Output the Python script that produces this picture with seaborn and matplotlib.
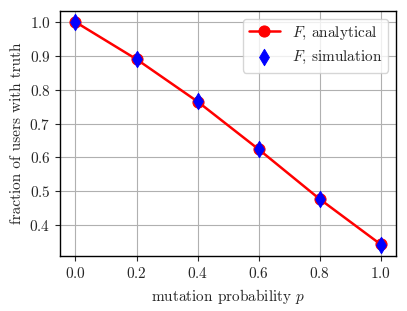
import pandas as pd
import matplotlib.pyplot as plt
import seaborn as sns

p_values = [0.0, 0.2, 0.4, 0.6, 0.8, 1.0]
analytical = [1.0, 0.89, 0.765, 0.624, 0.477, 0.343]
simulation = [1.0, 0.891, 0.768, 0.626, 0.476, 0.341]

df = pd.DataFrame({'p': p_values, 'analytical': analytical, 'simulation': simulation})

sns.set_style('ticks')
plt.rcParams['font.family'] = 'serif'
plt.rcParams['font.serif'] = ['cmr10', 'DejaVu Serif']
plt.rcParams['mathtext.fontset'] = 'cm'
plt.rcParams['axes.formatter.use_mathtext'] = True
plt.rcParams['font.size'] = 11

fig, ax = plt.subplots(figsize=(4.07, 3.11), dpi=100)
sns.lineplot(x='p', y='analytical', data=df, color='red', marker='o', markersize=8,
             markeredgecolor='red', linewidth=1.8, label=r'$F$, analytical', ax=ax)
sns.scatterplot(x='p', y='simulation', data=df, color='blue', marker='d', s=70,
                edgecolor='blue', label=r'$F$, simulation', ax=ax, zorder=3)
ax.grid(True, color='#b0b0b0', linewidth=0.8)
ax.set_axisbelow(True)
for s in ax.spines.values():
    s.set_linewidth(1.0)
    s.set_color('black')
ax.tick_params(direction='out', length=3.5, width=0.8, labelsize=11)
ax.set_xticks(p_values)
ax.set_xlabel(r'mutation probability $p$', fontsize=11)
ax.set_ylabel('fraction of users with truth', fontsize=11)
ax.legend(loc='upper right', fontsize=11, framealpha=0.8)
fig.subplots_adjust(left=0.148, right=0.973, top=0.965, bottom=0.176)
fig.savefig('out.png', dpi=100)
